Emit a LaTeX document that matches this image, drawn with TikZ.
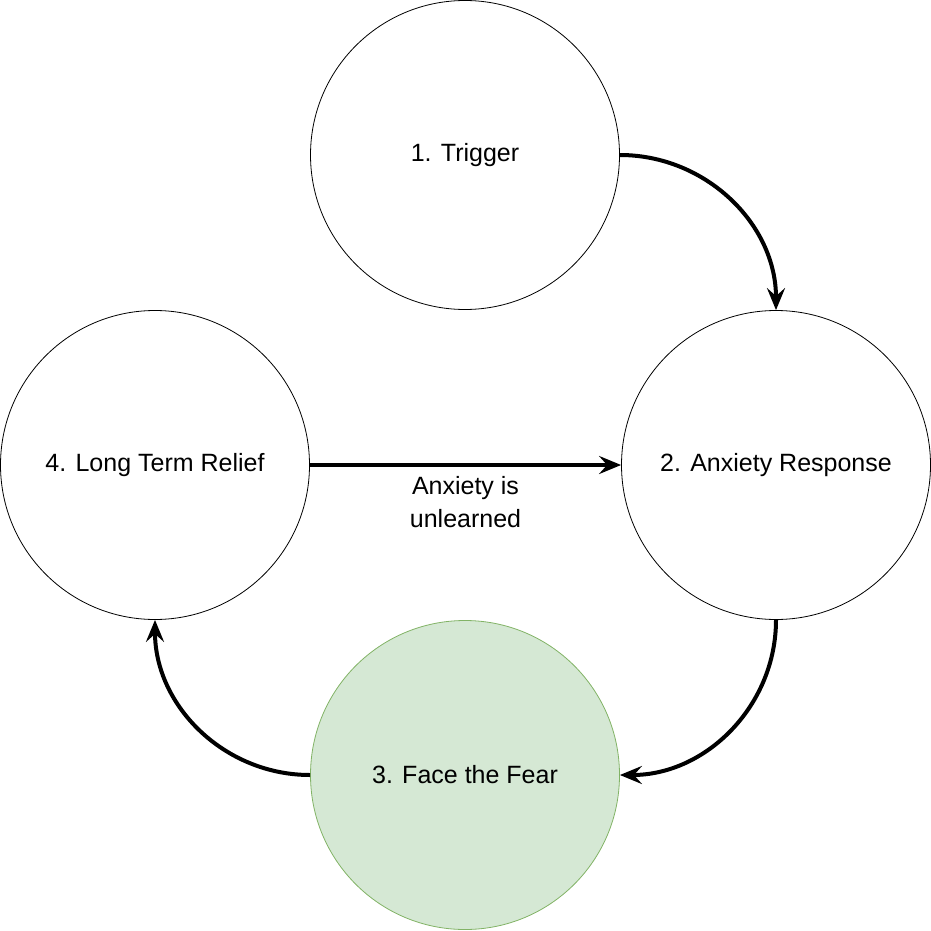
\documentclass[tikz,border=0pt]{standalone}
\usepackage{fontspec}
\setmainfont{Liberation Sans}
\usetikzlibrary{arrows.meta}
\definecolor{gfill}{HTML}{D5E8D4}
\definecolor{gdraw}{HTML}{82B366}
\begin{document}
\begin{tikzpicture}[x=1pt,y=-1pt,
  stage/.style={circle,draw=black,line width=0.8pt,minimum size=309pt,inner sep=0pt,font=\fontsize{25}{30}\selectfont},
  flow/.style={line width=4pt,-{Stealth[length=22pt,width=18pt,inset=8pt]}}]
\useasboundingbox (0,0) rectangle (931,931);
\node[stage] (t) at (465,155) {1. Trigger};
\node[stage] (a) at (776,465) {2. Anxiety Response};
\node[stage] (r) at (155,465) {4. Long Term Relief};
\node[stage,fill=gfill,draw=gdraw] (f) at (465,775) {3. Face the Fear};
\draw[flow] (t.east) to[out=0,in=90] (a.north);
\draw[flow] (a.south) to[out=-90,in=0] (f.east);
\draw[flow] (f.west) to[out=180,in=-90] (r.south);
\draw[flow] (r.east) -- node[below=6pt,align=center,font=\fontsize{25}{33}\selectfont]{Anxiety is\\unlearned} (a.west);
\end{tikzpicture}
\end{document}
